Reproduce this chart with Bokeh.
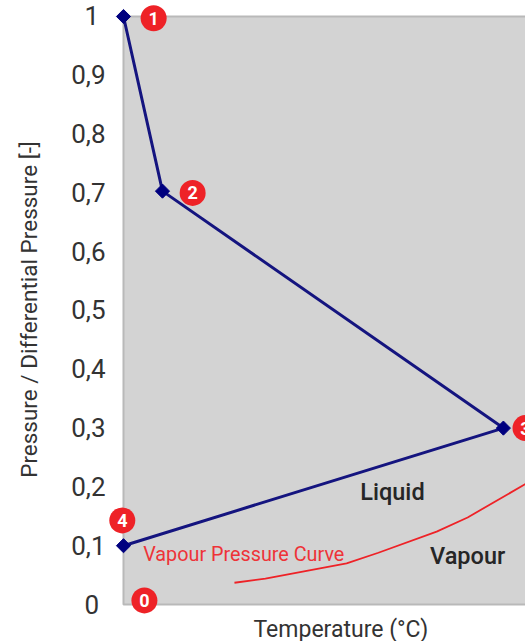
from bokeh.plotting import figure
from bokeh.embed import file_html
from bokeh.resources import INLINE
from bokeh.models import Range1d, FixedTicker, Title
from bokeh.core.properties import value

# Cycle (x is a unitless 0-100 temperature position)
cycle_x = [0, 9.7, 94.5, 0]
cycle_y = [1.0, 0.703, 0.3, 0.1]

# Vapour pressure curve
curve_x = [27.6, 35.3, 55.5, 63.4, 77.9, 85.6, 100]
curve_y = [0.037, 0.044, 0.070, 0.088, 0.124, 0.148, 0.205]

# Numbered badges
badge_text = ["1", "2", "3", "4", "0"]
badge_x = [7.5, 17.2, 100, -0.3, 5.2]
badge_y = [0.997, 0.70, 0.3, 0.143, 0.007]

# Axis ticks
y_ticks = [0, 0.1, 0.2, 0.3, 0.4, 0.5, 0.6, 0.7, 0.8, 0.9, 1]
y_tick_labels = ["0", "0,1", "0,2", "0,3", "0,4", "0,5", "0,6", "0,7", "0,8", "0,9", "1"]

FONT = "Roboto"
TXT = "#333333"
RED = "#ee2227"
NAVY = "#00007f"

p = figure(width=525, height=641, output_backend="svg", toolbar_location=None,
           x_range=Range1d(-3.73, 100), y_range=Range1d(-0.0238, 1.0272),
           min_border_left=108, min_border_right=0, min_border_top=0, min_border_bottom=0,
           background_fill_color="white", border_fill_color="white", outline_line_color=None)
p.grid.visible = False
p.xaxis.visible = False
p.title.visible = False

ax = p.yaxis[0]
ax.ticker = FixedTicker(ticks=y_ticks)
ax.major_label_overrides = {t: (l + "\u00a0" if len(l) == 1 else l) for t, l in zip(y_ticks, y_tick_labels)}
ax.major_label_text_font = FONT
ax.major_label_text_font_size = "26px"
ax.major_label_text_color = TXT
ax.major_label_standoff = 3
ax.major_tick_in = 0
ax.major_tick_out = 0
ax.minor_tick_in = 0
ax.minor_tick_out = 0
ax.major_tick_line_color = None
ax.minor_tick_line_color = None
ax.axis_line_color = None
ax.axis_label = "Pressure / Differential Pressure [-]"
ax.axis_label_text_font = FONT
ax.axis_label_text_font_style = "normal"
ax.axis_label_text_font_size = "22.5px"
ax.axis_label_text_color = TXT
ax.axis_label_standoff = 26

# Plot region
p.quad(left=[0], right=[100], bottom=[0], top=[1], fill_color="#d3d3d3", line_color=None)
p.line(x=[100, 0, 0, 100], y=[1, 1, 0, 0], line_color="#b9b9b9", line_width=2)

# Curves
p.line(curve_x, curve_y, line_color="#ee2227", line_width=1.8)
p.line(cycle_x, cycle_y, line_color="#14147f", line_width=3)
p.scatter(cycle_x, cycle_y, marker="square", size=10, angle=0.785, fill_color=NAVY, line_color=NAVY)

# Badges
p.scatter(badge_x, badge_y, marker="circle", size=26, fill_color=RED, line_color=None)
p.text(badge_x, badge_y, text=badge_text, text_font=value(FONT), text_font_style="bold",
       text_font_size="18px", text_color="white", text_align="center", text_baseline="middle")

# Region labels
p.text([66.9], [0.192], text=["Liquid"], text_font=value("Roboto Medium"),
       text_font_size="23.5px", text_color="#262626", text_align="center", text_baseline="middle")
p.text([85.6], [0.083], text=["Vapour"], text_font=value("Roboto Medium"),
       text_font_size="23.5px", text_color="#262626", text_align="center", text_baseline="middle")
p.text([4.9], [0.085], text=["Vapour Pressure Curve"], text_font=value(FONT),
       text_font_size="19.8px", text_color="#ee3338", text_align="left", text_baseline="middle")

p.add_layout(Title(text="Temperature (°C)", align="left", offset=145, standoff=-6, vertical_align="top",
                   text_font=FONT, text_font_size="23px", text_font_style="normal",
                   text_color=TXT), "below")

open("out.html", "w").write(file_html(p, INLINE))
